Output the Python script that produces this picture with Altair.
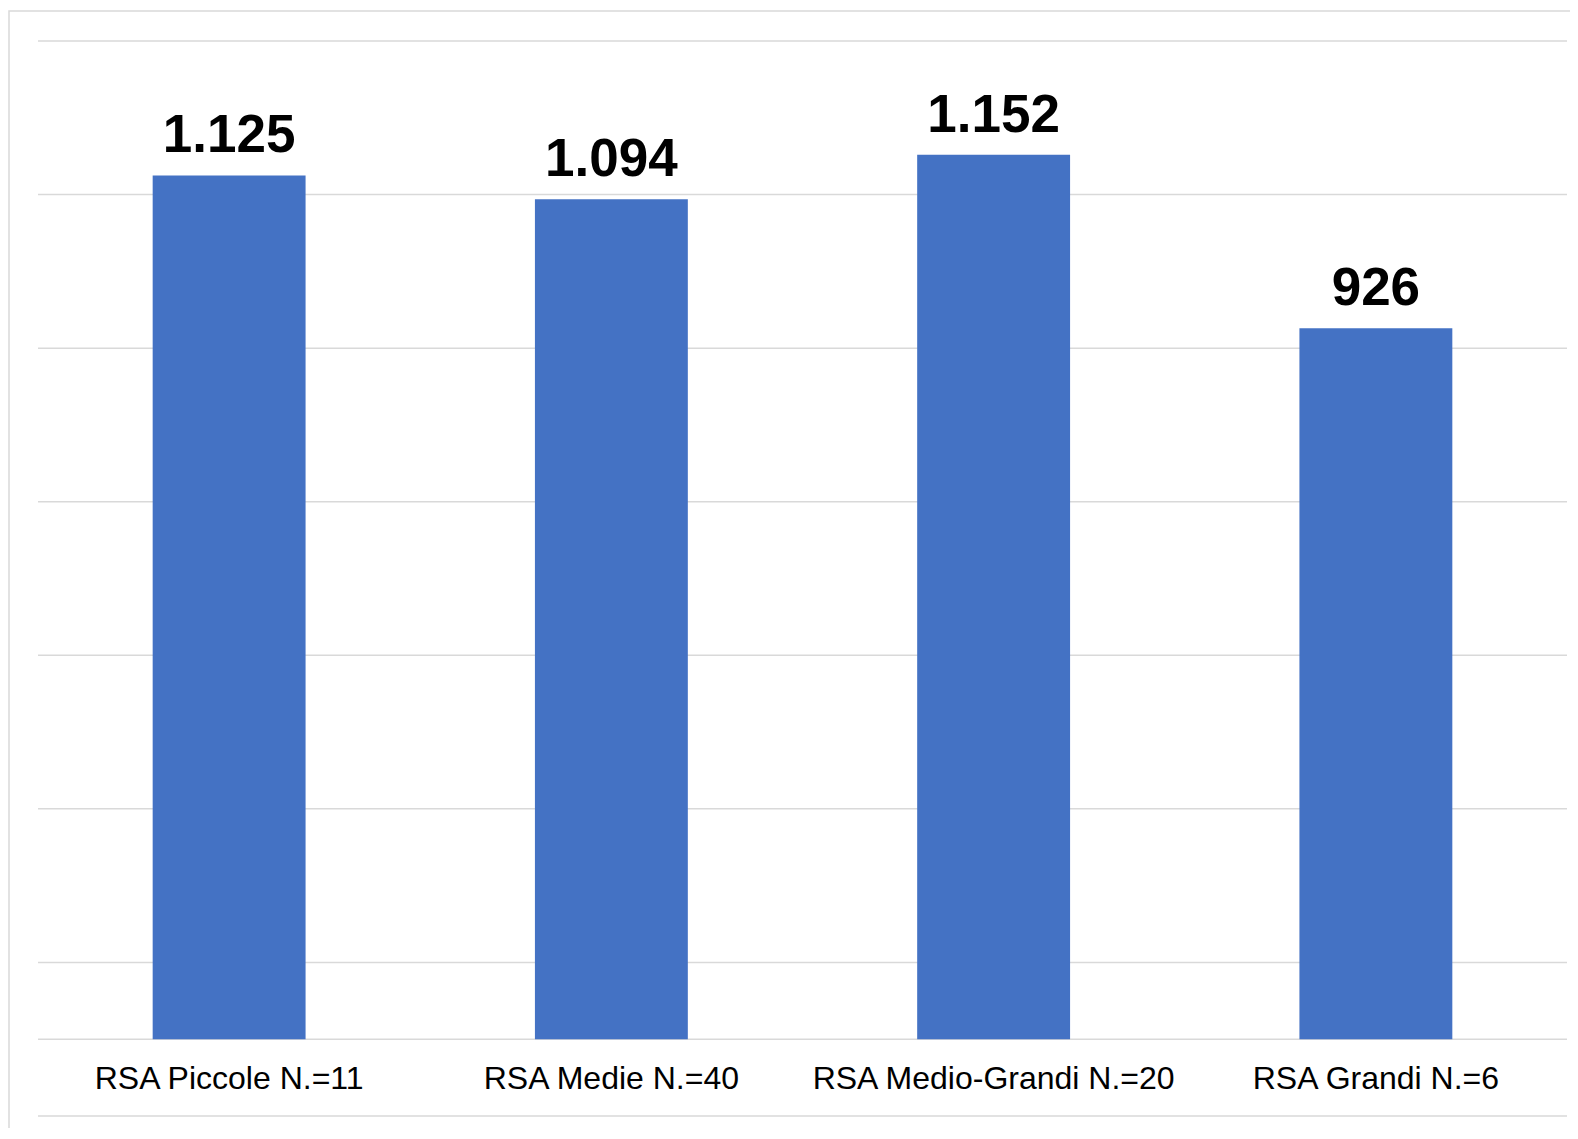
import altair as alt
import pandas as pd

categories = ["RSA Piccole N.=11", "RSA Medie N.=40", "RSA Medio-Grandi N.=20", "RSA Grandi N.=6"]
values = [1125, 1094, 1152, 926]
labels = ["1.125", "1.094", "1.152", "926"]
grid_values = [-100, 0, 100, 300, 500, 700, 900, 1100, 1300]

df = pd.DataFrame({"cat": categories, "value": values, "label": labels})
grid = pd.DataFrame({"g": grid_values})

W, H = 1529, 1075
yscale = alt.Scale(domain=[-100, 1300], nice=False, zero=False)
xscale = alt.Scale(domain=categories, paddingInner=0.6, paddingOuter=0.3)

frame = alt.Chart(pd.DataFrame({"a": [0]})).mark_rect(
    fill=None, stroke="#d9d9d9", strokeWidth=1.5
).encode(x=alt.value(-29), x2=alt.value(W + 60), y=alt.value(-30), y2=alt.value(H + 80))

rules = alt.Chart(grid).mark_rule(color="#d9d9d9", strokeWidth=1.5).encode(
    y=alt.Y("g:Q", scale=yscale, axis=None)
)

bars = alt.Chart(df).mark_bar(color="#4472C4").encode(
    x=alt.X("cat:N", scale=xscale, axis=None, sort=categories),
    y=alt.Y("value:Q", scale=yscale, axis=None),
    y2=alt.datum(0),
)

vals = alt.Chart(df).mark_text(
    font="Liberation Sans", fontWeight="bold", fontSize=53, baseline="alphabetic",
    dy=-23, color="black"
).encode(
    x=alt.X("cat:N", scale=xscale, axis=None, sort=categories),
    y=alt.Y("value:Q", scale=yscale, axis=None),
    text="label:N",
)

cats = alt.Chart(df).mark_text(
    font="Liberation Sans", fontSize=32, baseline="alphabetic", dy=49.5, color="black"
).encode(
    x=alt.X("cat:N", scale=xscale, axis=None, sort=categories),
    y=alt.datum(0),
    text="cat:N",
)

chart = alt.layer(frame, rules, bars, vals, cats).properties(
    width=W, height=H,
    autosize=alt.AutoSizeParams(type="none"),
    padding={"left": 30, "top": 33, "right": 3, "bottom": 12},
).configure_view(stroke=None)

chart.save("out.html", embed_options={"renderer": "svg", "actions": False})
